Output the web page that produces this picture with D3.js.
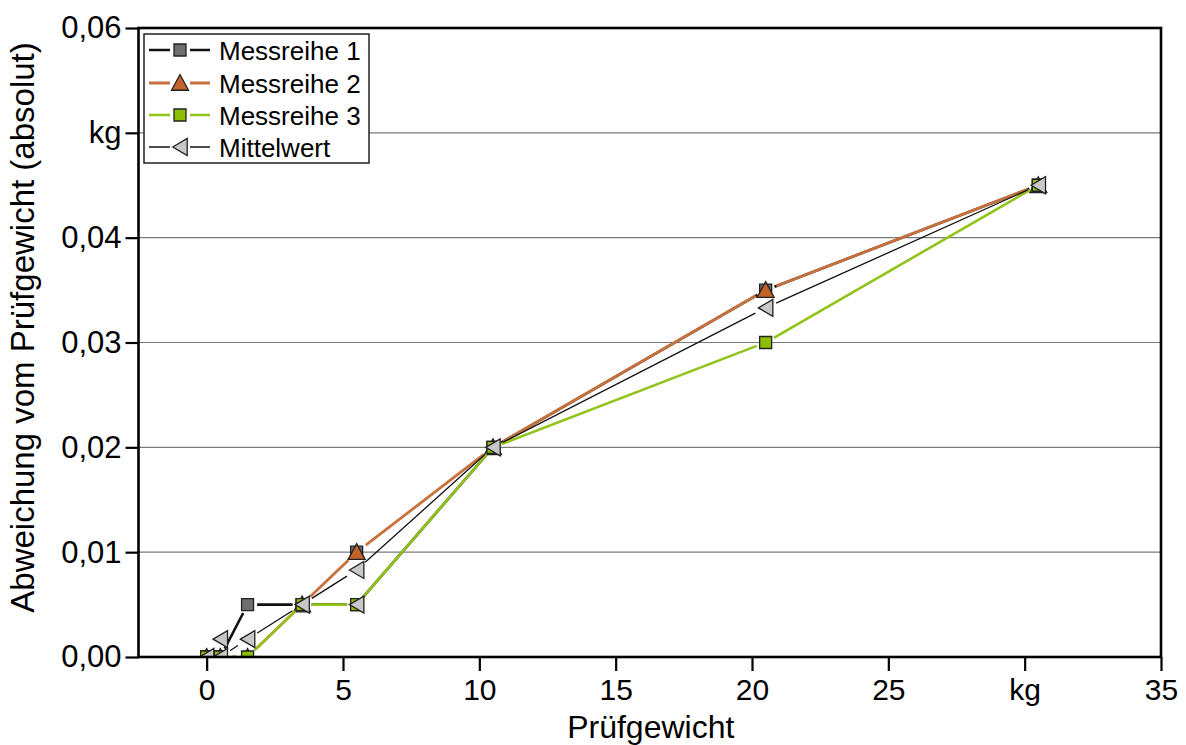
<!DOCTYPE html>
<html><head><meta charset="utf-8">
<script src="https://cdn.jsdelivr.net/npm/d3@7/dist/d3.min.js"></script>
<style>
html,body{margin:0;padding:0;background:#fff;}
svg{display:block;font-family:"Liberation Sans",Arial,sans-serif;}
</style></head>
<body>
<svg id="chart" width="1186" height="745"></svg>
<script>
// ---- data ----
const xTickValues = [0, 5, 10, 15, 20, 25, 30, 35];
const xTickLabels = ["0", "5", "10", "15", "20", "25", "kg", "35"];
const yTickValues = [0, 0.01, 0.02, 0.03, 0.04, 0.05, 0.06];
const yTickLabels = ["0,00", "0,01", "0,02", "0,03", "0,04", "kg", "0,06"];
const seriesNames = ["Messreihe 1", "Messreihe 2", "Messreihe 3", "Mittelwert"];
const pruefX = [0, 0.5, 1.5, 3.5, 5.5, 10.5, 20.5, 30.5];
const messreihe1 = [0, 0, 0.005, 0.005, 0.005, 0.02, 0.035, 0.045];
const messreihe2 = [0, 0, 0, 0.005, 0.01, 0.02, 0.035, 0.045];
const messreihe3 = [0, 0, 0, 0.005, 0.005, 0.02, 0.03, 0.045];
const mittelwert = [0, 0, 0.0017, 0.005, 0.0083, 0.02, 0.0333, 0.045];
// extra unconnected markers visible in the original
const extraM1X = [5.5], extraM1Y = [0.01];
const extraMittelX = [0.5, 5.5], extraMittelY = [0.0017, 0.005];

const svg = d3.select("#chart");
const L = 138.5, R = 1161, T = 28, B = 657;
const x = d3.scaleLinear().domain([-2.5, 35]).range([L, R]);
const y = d3.scaleLinear().domain([0, 0.06]).range([B, T]);

// grid
svg.append("g").selectAll("line").data(yTickValues.filter(v => v > 0 && v < 0.06)).join("line")
  .attr("x1", L).attr("x2", R).attr("y1", d => y(d)).attr("y2", d => y(d))
  .attr("stroke", "#7a7a7a").attr("stroke-width", 1.2);

// clip
svg.append("clipPath").attr("id", "clip").append("rect")
  .attr("x", L).attr("y", T).attr("width", R - L).attr("height", B - T);
const plot = svg.append("g").attr("clip-path", "url(#clip)");

const styles = [
  {name: seriesNames[0], vals: messreihe1, line: "#111", lw: 2.6, shape: "square", fill: "#6e6e6e", size: 13},
  {name: seriesNames[1], vals: messreihe2, line: "#c8713d", lw: 2.8, shape: "up", fill: "#c4622c", size: 17},
  {name: seriesNames[2], vals: messreihe3, line: "#92c31a", lw: 2.6, shape: "square", fill: "#8cbf00", size: 13},
  {name: seriesNames[3], vals: mittelwert, line: "#111", lw: 1.3, shape: "left", fill: "#c8c8c8", size: 17}
];

function markerPath(shape, s) {
  const h = s / 2;
  if (shape === "square") return `M${-h+0.5},${-h+0.5}H${h-0.5}V${h-0.5}H${-h+0.5}Z`;
  if (shape === "up") return `M0,${-h}L${h},${h*0.85}L${-h},${h*0.85}Z`;
  if (shape === "left") return `M${-h*0.85},0L${h*0.85},${-h}L${h*0.85},${h}Z`;
}

function drawGappedLine(g, pts, st, gap) {
  for (let i = 0; i < pts.length - 1; i++) {
    const [x0, y0] = pts[i], [x1, y1] = pts[i + 1];
    const dx = x1 - x0, dy = y1 - y0, len = Math.hypot(dx, dy);
    if (len <= 2 * gap + 1) continue;
    const ux = dx / len, uy = dy / len;
    g.append("line")
      .attr("x1", x0 + ux * gap).attr("y1", y0 + uy * gap)
      .attr("x2", x1 - ux * gap).attr("y2", y1 - uy * gap)
      .attr("stroke", st.line).attr("stroke-width", st.lw);
  }
}

function drawMarkers(g, xs, ys, st) {
  g.selectAll(null).data(xs.map((v, i) => [v, ys[i]])).join("path")
    .attr("transform", d => `translate(${x(d[0])},${y(d[1])})`)
    .attr("d", markerPath(st.shape, st.size))
    .attr("fill", st.fill).attr("stroke", "#222").attr("stroke-width", 1.3);
}

styles.forEach((st, si) => {
  const g = plot.append("g");
  const pts = pruefX.map((v, i) => [x(v), y(st.vals[i])]);
  drawGappedLine(g, pts, st, st.size / 2 + 3);
  if (si === 0) drawMarkers(g, extraM1X, extraM1Y, st);
  if (si === 3) drawMarkers(g, extraMittelX, extraMittelY, st);
  drawMarkers(g, pruefX, st.vals, st);
});

// axes
const xAxis = d3.axisBottom(x).tickValues(xTickValues)
  .tickFormat((d, i) => xTickLabels[i]).tickSize(14).tickPadding(8);
const gx = svg.append("g").attr("transform", `translate(0,${B})`).call(xAxis);
gx.select(".domain").remove();
gx.selectAll(".tick line").attr("stroke", "#000").attr("stroke-width", 2.2);
gx.selectAll(".tick text").attr("font-size", 30).attr("fill", "#000")
  .attr("font-family", "'Liberation Sans',Arial,sans-serif");

const yAxis = d3.axisLeft(y).tickValues(yTickValues)
  .tickFormat((d, i) => yTickLabels[i]).tickSize(13).tickPadding(4);
const gy = svg.append("g").attr("transform", `translate(${L},0)`).call(yAxis);
gy.select(".domain").remove();
gy.selectAll(".tick line").attr("stroke", "#000").attr("stroke-width", 2.2);
gy.selectAll(".tick text").attr("font-size", 31).attr("fill", "#000")
  .attr("font-family", "'Liberation Sans',Arial,sans-serif");

// frame
svg.append("rect").attr("x", L).attr("y", T).attr("width", R - L).attr("height", B - T)
  .attr("fill", "none").attr("stroke", "#000").attr("stroke-width", 2.6);

// titles
svg.append("text").attr("x", (L + R) / 2 + 1).attr("y", 738).attr("text-anchor", "middle")
  .attr("font-size", 32).attr("fill", "#000").text("Prüfgewicht");
svg.append("text").attr("transform", `translate(34,${(T + B) / 2 - 15}) rotate(-90)`)
  .attr("text-anchor", "middle").attr("font-size", 33).attr("fill", "#000")
  .text("Abweichung vom Prüfgewicht (absolut)");

// legend
const lg = svg.append("g");
lg.append("rect").attr("x", 144).attr("y", 34).attr("width", 225).attr("height", 129)
  .attr("fill", "#fff").attr("stroke", "#222").attr("stroke-width", 1.5);
const rowY = [50, 83, 115, 147];
styles.forEach((st, i) => {
  const cy = rowY[i];
  lg.append("line").attr("x1", 149).attr("x2", 210).attr("y1", cy).attr("y2", cy)
    .attr("stroke", st.line).attr("stroke-width", st.lw);
  lg.append("rect").attr("x", 170).attr("y", cy - 10).attr("width", 20).attr("height", 20).attr("fill", "#fff");
  lg.append("path").attr("transform", `translate(180,${cy})`)
    .attr("d", markerPath(st.shape, st.size))
    .attr("fill", st.fill).attr("stroke", "#222").attr("stroke-width", 1.3);
  lg.append("text").attr("x", 219).attr("y", cy + 9.5).attr("font-size", 26).attr("fill", "#000")
    .text(st.name);
});
</script>
</body></html>
